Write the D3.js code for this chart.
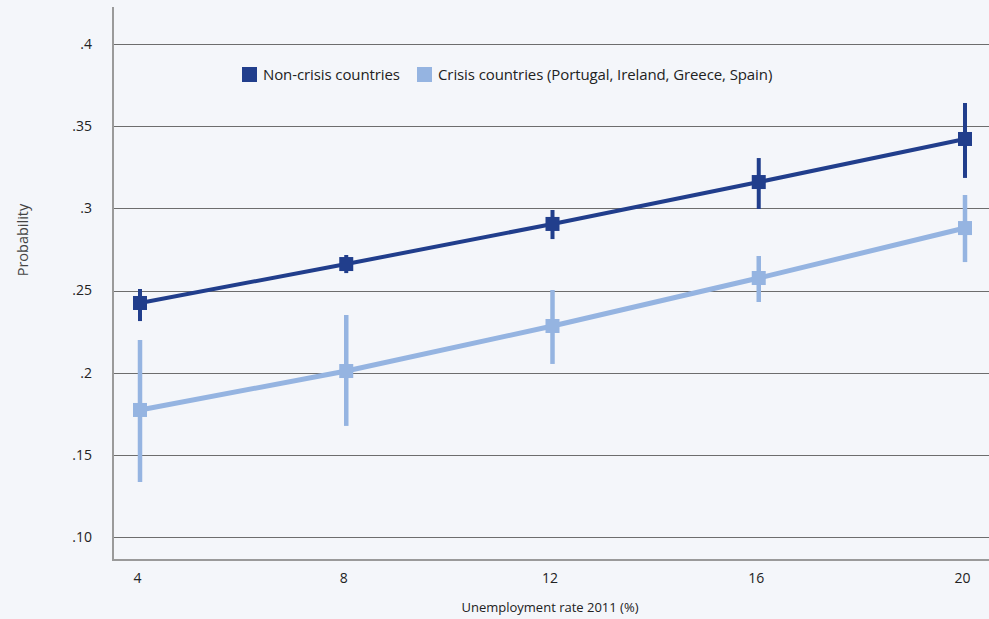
<!DOCTYPE html>
<html><head><meta charset="utf-8">
<script src="https://cdn.jsdelivr.net/npm/d3@7"></script>
<style>
html,body{margin:0;padding:0;background:#f4f6fa;}
svg{display:block;font-family:"Open Sans","Noto Sans",sans-serif;}
</style></head>
<body><svg id="c" width="989" height="619"></svg>
<script>
const xValues = [4, 8, 12, 16, 20];
const seriesNames = ["Non-crisis countries", "Crisis countries (Portugal, Ireland, Greece, Spain)"];
const nonCrisis = [0.2424, 0.2661, 0.2905, 0.3160, 0.3422];
const nonCrisisLo = [0.2314, 0.2606, 0.2813, 0.2996, 0.3185];
const nonCrisisHi = [0.2509, 0.2716, 0.2990, 0.3306, 0.3641];
const crisis = [0.1773, 0.2010, 0.2284, 0.2576, 0.2880];
const crisisLo = [0.1335, 0.1676, 0.2053, 0.2430, 0.2673];
const crisisHi = [0.2199, 0.2351, 0.2503, 0.2710, 0.3081];
const yTicks = [0.10, 0.15, 0.2, 0.25, 0.3, 0.35, 0.4];
const yTickLabels = [".10", ".15", ".2", ".25", ".3", ".35", ".4"];
const xTitle = "Unemployment rate 2011 (%)";
const yTitle = "Probability";
const colors = ["#213e8c", "#95b4e1"];

(function () {
const svg = d3.select("#c");
const pLeft = 113, pRight = 989, pTop = 7, pBottom = 560;
const x = d3.scaleLinear().domain([4, 20]).range([140, 965]);
const y = d3.scaleLinear().domain([0.1, 0.4]).range([537, 44]);

// gridlines
svg.append("g").selectAll("line").data(yTicks).join("line")
  .attr("x1", pLeft).attr("x2", pRight)
  .attr("y1", d => Math.round(y(d)) + 0.5).attr("y2", d => Math.round(y(d)) + 0.5)
  .attr("stroke", "#6d6d6d").attr("stroke-width", 1);

// y axis
const yAxis = d3.axisLeft(y).tickValues(yTicks).tickSize(0).tickPadding(0)
  .tickFormat((d, i) => yTickLabels[i]);
const gy = svg.append("g").attr("transform", `translate(${92},0)`).call(yAxis);
gy.select(".domain").remove();
gy.selectAll("text").attr("font-size", 14).attr("fill", "#222").attr("font-family", "Open Sans");

// x axis
const xAxis = d3.axisBottom(x).tickValues(xValues).tickSize(0).tickPadding(0);
const gx = svg.append("g").attr("transform", `translate(0,${573})`).call(xAxis);
gx.select(".domain").remove();
gx.selectAll("text").attr("font-size", 14).attr("fill", "#222").attr("font-family", "Open Sans").attr("dx", -3);

// axis frame lines
svg.append("line").attr("x1", pLeft).attr("x2", pLeft).attr("y1", pTop).attr("y2", pBottom + 1)
  .attr("stroke", "#9a9a9a").attr("stroke-width", 2);
svg.append("line").attr("x1", pLeft).attr("x2", pRight).attr("y1", pBottom).attr("y2", pBottom)
  .attr("stroke", "#9a9a9a").attr("stroke-width", 2);

// titles
svg.append("text").attr("x", 550).attr("y", 612).attr("text-anchor", "middle")
  .attr("font-size", 13).attr("fill", "#222").text(xTitle);
svg.append("text").attr("transform", "translate(28,240) rotate(-90)").attr("text-anchor", "middle")
  .attr("font-size", 14.5).attr("fill", "#444").text(yTitle);

// series
const series = [
  {vals: nonCrisis, lo: nonCrisisLo, hi: nonCrisisHi, color: colors[0], lw: 4, ew: 4},
  {vals: crisis, lo: crisisLo, hi: crisisHi, color: colors[1], lw: 5, ew: 4.5}
];
const line = d3.line().x((d, i) => x(xValues[i])).y(d => y(d));
[1, 0].forEach(si => {
  const s = series[si];
  const g = svg.append("g");
  g.append("path").attr("d", line(s.vals)).attr("fill", "none")
    .attr("stroke", s.color).attr("stroke-width", s.lw);
  g.selectAll("line.err").data(s.vals).join("line").attr("class", "err")
    .attr("x1", (d, i) => x(xValues[i])).attr("x2", (d, i) => x(xValues[i]))
    .attr("y1", (d, i) => y(s.hi[i])).attr("y2", (d, i) => y(s.lo[i]))
    .attr("stroke", s.color).attr("stroke-width", s.ew);
  g.selectAll("rect").data(s.vals).join("rect")
    .attr("x", (d, i) => x(xValues[i]) - 7).attr("y", d => y(d) - 7)
    .attr("width", 14).attr("height", 14).attr("fill", s.color);
});

// legend
const legX = [242, 417];
const lg = svg.append("g");
seriesNames.forEach((n, i) => {
  lg.append("rect").attr("x", legX[i]).attr("y", 67).attr("width", 15).attr("height", 15).attr("fill", colors[i]);
  lg.append("text").attr("x", legX[i] + 21).attr("y", 80).attr("font-size", 15).attr("fill", "#222")
    .attr("letter-spacing", -0.1).text(n);
});
})();
</script></body></html>
